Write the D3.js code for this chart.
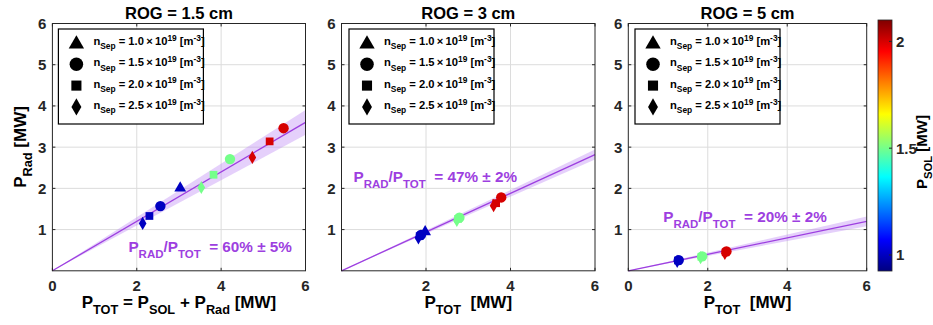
<!DOCTYPE html>
<html>
<head>
<meta charset="utf-8">
<script src="https://d3js.org/d3.v7.min.js"></script>
<style>
    body { margin: 0; background: #fff; }
    svg { display: block; font-family: "Liberation Sans", Arial, sans-serif; font-weight: bold; }
</style>
</head>
<body>
<svg id="chart" width="933" height="325"></svg>
<script>
// ---- data ----
const titles = ["ROG = 1.5 cm", "ROG = 3 cm", "ROG = 5 cm"];
const nSepLabels = ["1.0", "1.5", "2.0", "2.5"];   // legend order: triangle, circle, square, diamond
const fitRatio = [60, 47, 20];                      // P_RAD/P_TOT in %
const fitErr = [5, 2, 2];                           // +/- in %

// ROG = 1.5 cm
const ptot1  = [3.03, 2.56, 2.30, 2.14, 4.21, 3.82, 3.53, 5.48, 5.15, 4.74];
const prad1  = [2.03, 1.57, 1.33, 1.15, 2.71, 2.33, 2.02, 3.46, 3.14, 2.75];
const shape1 = [0, 1, 2, 3, 1, 2, 3, 1, 2, 3];
const psol1  = [1.0, 1.0, 1.0, 1.0, 1.5, 1.5, 1.5, 2.0, 2.0, 2.0];
// ROG = 3 cm
const ptot2  = [1.98, 1.88, 1.85, 1.82, 2.79, 2.76, 2.73, 3.78, 3.66, 3.60];
const prad2  = [0.97, 0.87, 0.84, 0.80, 1.29, 1.26, 1.22, 1.78, 1.64, 1.58];
const shape2 = [0, 1, 2, 3, 1, 2, 3, 1, 2, 3];
const psol2  = [1.0, 1.0, 1.0, 1.0, 1.5, 1.5, 1.5, 2.0, 2.0, 2.0];
// ROG = 5 cm
const ptot3  = [1.27, 1.25, 1.23, 1.86, 1.84, 1.82, 2.47, 2.45, 2.43];
const prad3  = [0.26, 0.25, 0.23, 0.35, 0.34, 0.32, 0.47, 0.45, 0.42];
const shape3 = [1, 2, 3, 1, 2, 3, 1, 2, 3];
const psol3  = [1.0, 1.0, 1.0, 1.5, 1.5, 1.5, 2.0, 2.0, 2.0];

const xTicks = [0, 2, 4, 6];
const xTickLabels = [[0, 2, 4, 6], [2, 4, 6], [0, 2, 4, 6]];
const yTicks = [1, 2, 3, 4, 5, 6];
const cbarDomain = [0.925, 2.1];
const cbarTicks = [1, 1.5, 2];

// ---- layout ----
const frames = [{x0: 52.4, x1: 305.5}, {x0: 341.5, x1: 595}, {x0: 628.3, x1: 866.7}];
const plotTop = 23.5, plotBottom = 270.8;
const purple = "#9d3fe0";

const svg = d3.select("#chart");

function jet(t) {
    const c = v => Math.max(0, Math.min(1, v));
    return d3.rgb(255 * c(1.5 - Math.abs(4 * t - 3)), 255 * c(1.5 - Math.abs(4 * t - 2)), 255 * c(1.5 - Math.abs(4 * t - 1))).toString();
}
const color = d3.scaleSequential(jet).domain(cbarDomain);

const symbolTypes = [d3.symbolTriangle, d3.symbolCircle, d3.symbolSquare, d3.symbolDiamond];
const symbolSizes = [60, 85, 60, 50];
const symbolDy = [1, 0, 0, 0];

// text with sub/superscripts: parts = [[text, "n"|"sub"|"sup"], ...]
function richText(g, parts, size) {
    const t = g.append("text").attr("font-size", size).attr("xml:space", "preserve");
    let level = 0;
    parts.forEach(([s, k]) => {
        const target = k === "sub" ? 1 : k === "sup" ? -1 : 0;
        const dy = (target - level) * size * 0.38;
        level = target;
        t.append("tspan").attr("dy", dy)
            .attr("font-size", k === "n" ? size : size * 0.75)
            .text(s);
    });
    return t;
}

const panels = [
    {ptot: ptot1, prad: prad1, shape: shape1, psol: psol1},
    {ptot: ptot2, prad: prad2, shape: shape2, psol: psol2},
    {ptot: ptot3, prad: prad3, shape: shape3, psol: psol3}
];
const ratioPos = [[76, 252], [12, 182], [35, 222]];
const legendX = [6, 7.5, 6.7];

panels.forEach((p, i) => {
    const f = frames[i];
    const x = d3.scaleLinear().domain([0, 6]).range([f.x0, f.x1]);
    const y = d3.scaleLinear().domain([0, 6]).range([plotBottom, plotTop]);
    const g = svg.append("g");

    g.append("rect").attr("x", f.x0).attr("y", plotTop).attr("width", f.x1 - f.x0).attr("height", plotBottom - plotTop).attr("fill", "#fff");

    // grid
    g.selectAll(".gx").data(xTicks.slice(1, -1)).enter().append("line")
        .attr("x1", d => x(d)).attr("x2", d => x(d)).attr("y1", plotTop).attr("y2", plotBottom)
        .attr("stroke", "#dcdcdc").attr("stroke-width", 1);
    g.selectAll(".gy").data(yTicks.slice(0, -1)).enter().append("line")
        .attr("y1", d => y(d)).attr("y2", d => y(d)).attr("x1", f.x0).attr("x2", f.x1)
        .attr("stroke", "#dcdcdc").attr("stroke-width", 1);

    // fit band and line
    const r = fitRatio[i] / 100, e = fitErr[i] / 100;
    const band = d3.area().x(d => x(d)).y0(d => y(d * (r - e))).y1(d => y(d * (r + e)));
    g.append("path").datum([0, 6]).attr("d", band).attr("fill", "#bf8af4").attr("fill-opacity", 0.4);
    g.append("path").datum([0, 6]).attr("d", d3.line().x(d => x(d)).y(d => y(d * r)))
        .attr("stroke", purple).attr("stroke-width", 1.3).attr("fill", "none");

    // markers
    g.selectAll(".pt").data(p.ptot).enter().append("path")
        .attr("transform", (d, j) => `translate(${x(d)},${y(p.prad[j]) + symbolDy[p.shape[j]]})`)
        .attr("d", (d, j) => d3.symbol(symbolTypes[p.shape[j]], symbolSizes[p.shape[j]])())
        .attr("fill", (d, j) => color(p.psol[j]));

    // axes (inward ticks, box)
    const ax = g.append("g");
    ax.selectAll(".tb").data(xTicks).enter().append("line")
        .attr("x1", d => x(d)).attr("x2", d => x(d)).attr("y1", plotBottom).attr("y2", plotBottom - 3).attr("stroke", "#262626");
    ax.selectAll(".tt").data(xTicks).enter().append("line")
        .attr("x1", d => x(d)).attr("x2", d => x(d)).attr("y1", plotTop).attr("y2", plotTop + 3).attr("stroke", "#262626");
    ax.selectAll(".tl").data(yTicks).enter().append("line")
        .attr("y1", d => y(d)).attr("y2", d => y(d)).attr("x1", f.x0).attr("x2", f.x0 + 3).attr("stroke", "#262626");
    ax.selectAll(".tr").data(yTicks).enter().append("line")
        .attr("y1", d => y(d)).attr("y2", d => y(d)).attr("x1", f.x1).attr("x2", f.x1 - 3).attr("stroke", "#262626");
    ax.append("rect").attr("x", f.x0).attr("y", plotTop).attr("width", f.x1 - f.x0).attr("height", plotBottom - plotTop)
        .attr("fill", "none").attr("stroke", "#262626").attr("stroke-width", 1);

    ax.selectAll(".xl").data(xTickLabels[i]).enter().append("text")
        .attr("x", d => x(d)).attr("y", 291).attr("text-anchor", "middle").attr("font-size", 15)
        .attr("fill", "#262626").text(d => d);
    ax.selectAll(".yl").data(yTicks).enter().append("text")
        .attr("x", f.x0 - 6).attr("y", d => y(d) + 5.5).attr("text-anchor", "end").attr("font-size", 15)
        .attr("fill", "#262626").text(d => d);

    // title
    g.append("text").attr("x", (f.x0 + f.x1) / 2).attr("y", 19).attr("text-anchor", "middle")
        .attr("font-size", 16.5).attr("fill", "#000").text(titles[i]);

    // x label
    const xl = i === 0
        ? richText(g, [["P", "n"], ["TOT", "sub"], [" = P", "n"], ["SOL", "sub"], [" + P", "n"], ["Rad", "sub"], [" [MW]", "n"]], 17)
        : richText(g, [["P", "n"], ["TOT", "sub"], ["  [MW]", "n"]], 17);
    xl.attr("x", (f.x0 + f.x1) / 2).attr("y", 308).attr("text-anchor", "middle").attr("fill", "#000");

    // ratio annotation
    richText(g, [["P", "n"], ["RAD", "sub"], ["/P", "n"], ["TOT", "sub"], ["  = " + fitRatio[i] + "% \u00b1 " + fitErr[i] + "%", "n"]], 15.3)
        .attr("x", f.x0 + ratioPos[i][0]).attr("y", ratioPos[i][1]).attr("fill", purple);

    // legend
    const lx = f.x0 + legendX[i], ly = 29;
    const lg = g.append("g");
    lg.append("rect").attr("x", lx).attr("y", ly).attr("width", 145).attr("height", 95)
        .attr("fill", "#fff").attr("stroke", "#000").attr("stroke-width", 1.2);
    nSepLabels.forEach((lab, k) => {
        const ry = ly + 14 + k * 21.3;
        lg.append("path").attr("transform", `translate(${lx + 18},${ry + symbolDy[k]})`)
            .attr("d", d3.symbol(symbolTypes[k], symbolSizes[k] * 1.7)()).attr("fill", "#000");
        richText(lg, [["n", "n"], ["Sep", "sub"], [" = " + lab + "\u2009\u00d7\u200910", "n"], ["19", "sup"], [" [m", "n"], ["-3", "sup"], ["]", "n"]], 11.2)
            .attr("x", lx + 35).attr("y", ry + 2).attr("fill", "#000");
    });
});

// y label
richText(svg, [["P", "n"], ["Rad", "sub"], [" [MW]", "n"]], 17)
    .attr("text-anchor", "middle").attr("transform", "translate(26,147) rotate(-90)").attr("fill", "#000");

// colorbar
const cbX = 878, cbW = 14, cbTop = 20, cbBottom = 271;
const cy = d3.scaleLinear().domain(cbarDomain).range([cbBottom, cbTop]);
const grad = svg.append("defs").append("linearGradient").attr("id", "jet")
    .attr("x1", 0).attr("y1", 1).attr("x2", 0).attr("y2", 0);
d3.range(0, 1.0001, 0.025).forEach(t => {
    grad.append("stop").attr("offset", t).attr("stop-color", jet(t));
});
svg.append("rect").attr("x", cbX).attr("y", cbTop).attr("width", cbW).attr("height", cbBottom - cbTop)
    .attr("fill", "url(#jet)").attr("stroke", "#262626").attr("stroke-width", 0.8);
svg.selectAll(".cbt").data(cbarTicks).enter().append("line")
    .attr("x1", cbX + cbW).attr("x2", cbX + cbW - 3).attr("y1", d => cy(d)).attr("y2", d => cy(d)).attr("stroke", "#262626");
svg.selectAll(".cbl").data(cbarTicks).enter().append("text")
    .attr("x", cbX + cbW + 4).attr("y", d => cy(d) + 5.5).attr("font-size", 15).attr("fill", "#262626").text(d => d);
richText(svg, [["P", "n"], ["SOL", "sub"], [" [MW]", "n"]], 15)
    .attr("text-anchor", "middle").attr("transform", "translate(926.5,152) rotate(-90)").attr("fill", "#000");
</script>
</body>
</html>
